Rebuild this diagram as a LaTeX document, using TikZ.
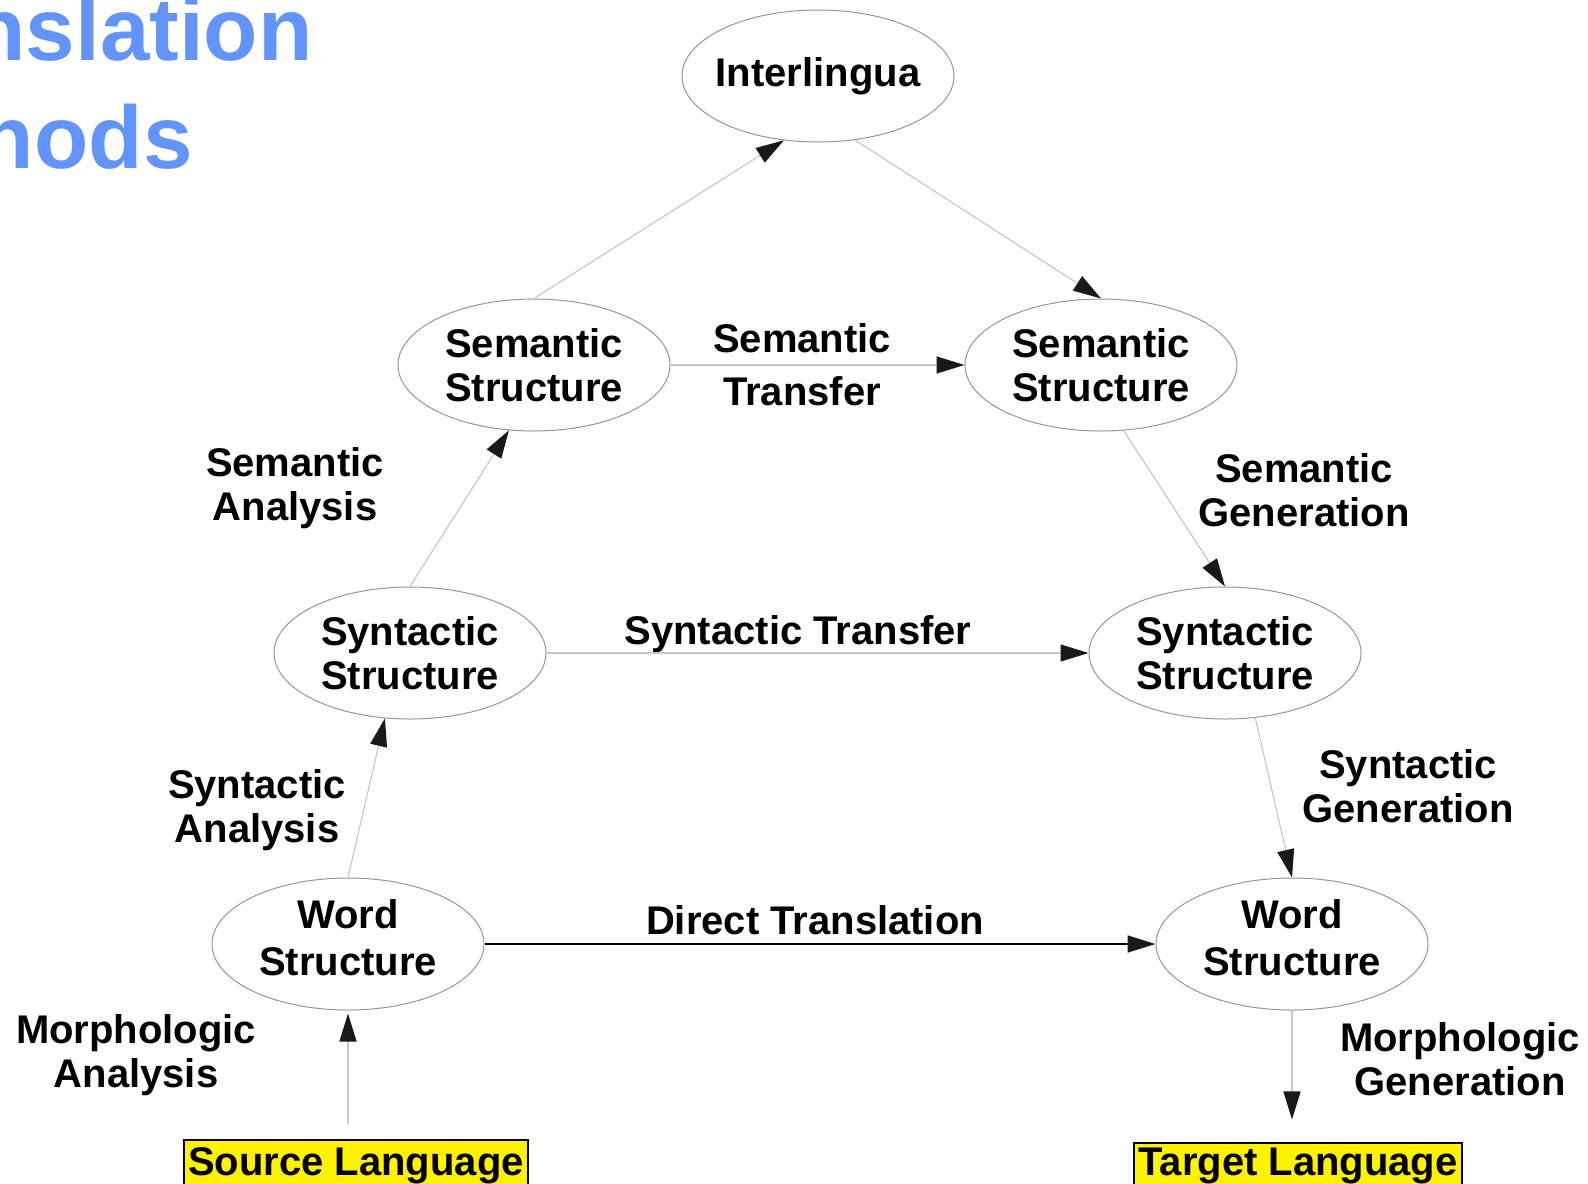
\documentclass[tikz,border=0pt]{standalone}
\usepackage{fontspec}
\setmainfont{Liberation Sans}
\usetikzlibrary{arrows.meta,shapes.geometric}
\definecolor{titleblue}{RGB}{99,148,252}
\definecolor{edgegray}{RGB}{200,200,200}
\definecolor{rimgray}{RGB}{150,150,150}
\definecolor{tipblack}{RGB}{25,25,25}
\tikzset{
  stage/.style={ellipse, draw=rimgray, line width=0.5pt, minimum width=136pt,
    minimum height=66pt, inner sep=0pt, align=center,
    font=\fontsize{20}{22}\selectfont\bfseries},
  wordstage/.style={stage, font=\fontsize{20}{23.5}\selectfont\bfseries, text depth=7pt},
  lbl/.style={align=center, inner sep=0pt, font=\fontsize{20}{22}\selectfont\bfseries},
  flow/.style={draw=edgegray, line width=0.6pt,
    -{Triangle[length=14pt,width=8.5pt,color=tipblack]}},
  lang/.style={draw=black, line width=1pt, fill=yellow, inner xsep=2pt,
    font=\fontsize{20}{22}\selectfont\bfseries},
  heading/.style={text=titleblue, inner sep=0pt, font=\fontsize{44.5}{50}\selectfont\bfseries}
}
\begin{document}
\begin{tikzpicture}[x=0.5pt,y=-0.5pt]
\useasboundingbox (0,0) rectangle (1588,1183);

% heading, partly outside the page
\node[heading, anchor=base east] (t1) at (313,60) {Translation};
\node[heading, anchor=base east] (t2) at (193,168) {Methods};

% levels of representation
\node[stage, inner xsep=-3.5pt] (il) at (818,76) {Interlingua};
\node[stage] (sl)  at (534,365)  {Semantic\\Structure};
\node[stage] (sr)  at (1101,365) {Semantic\\Structure};
\node[stage] (ynl) at (410,653)  {Syntactic\\Structure};
\node[stage] (ynr) at (1225,653) {Syntactic\\Structure};
\node[wordstage] (wl) at (348,944)  {Word\\Structure};
\node[wordstage] (wr) at (1292,944) {Word\\Structure};

% source and target text
\node[lang, inner ysep=3.5pt, anchor=base] (src) at (356,1175) {Source Language};
\node[lang, inner ysep=2.5pt, anchor=base] (tgt) at (1298,1175) {Target Language};

% step labels
\node[lbl, font=\fontsize{20}{26.5}\selectfont\bfseries] (lst) at (802,365) {Semantic\\Transfer};
\node[lbl] (lsa) at (295,488) {Semantic\\Analysis};
\node[lbl] (lsg) at (1304,490) {Semantic\\Generation};
\node[lbl] (lyt) at (798,634) {Syntactic Transfer};
\node[lbl] (lya) at (257,810) {Syntactic\\Analysis};
\node[lbl] (lyg) at (1408,786) {Syntactic\\Generation};
\node[lbl] (ldt) at (815,920) {Direct Translation};
\node[lbl] (lma) at (136,1055) {Morphologic\\Analysis};
\node[lbl] (lmg) at (1460,1059) {Morphologic\\Generation};

% analysis side
\draw[flow, shorten <=7.5pt, shorten >=1.5pt] (src.north -| wl.south) -- (wl.south);
\draw[flow] (wl.north) -- (ynl.249);
\draw[flow] (ynl.north) -- (sl.249);
\draw[flow] (sl.north) -- (il.242);

% generation side
\draw[flow] (il.300) -- (sr.north);
\draw[flow] (sr.289) -- (ynr.north);
\draw[flow] (ynr.295) -- (wr.north);
\draw[flow, shorten >=11pt] (wr.south) -- (wr.south |- tgt.north);

% transfers
\draw[flow] (sl.east) -- (sr.west);
\draw[flow] (ynl.east) -- (ynr.west);
\draw[flow, draw=black, line width=0.8pt] (wl.east) -- (wr.west);
\end{tikzpicture}
\end{document}
